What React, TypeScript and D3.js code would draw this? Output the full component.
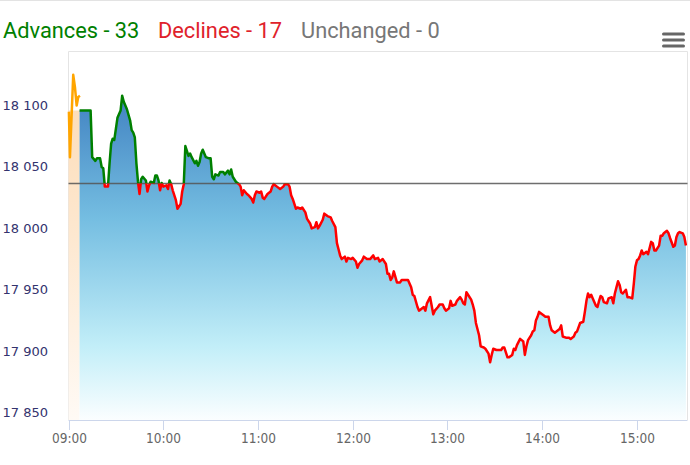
import React from "react";
import * as d3 from "d3";

// ---------- data ----------
const summaryLabels = ["Advances", "Declines", "Unchanged"];
const summaryCounts = [33, 17, 0];

const prevClose = 18036.5;

const preTimes = ["09:00:15", "09:00:55", "09:03:00", "09:04:05", "09:05:10", "09:06:10", "09:07:15"];
const preValues = [18095, 18058, 18125, 18115, 18100, 18107, 18108];

const times = [
  "09:07","09:14","09:15","09:17","09:18","09:20","09:21","09:22","09:23","09:25",
  "09:26","09:27","09:28","09:29","09:30","09:31","09:33","09:34","09:35","09:37",
  "09:39","09:40","09:41","09:42","09:43","09:44","09:45","09:46","09:47","09:49",
  "09:50","09:51","09:52","09:54","09:55","09:56","09:57","09:58","09:59","10:00",
  "10:02","10:03","10:04","10:05","10:06","10:08","10:09","10:11","10:12","10:13",
  "10:14","10:16","10:17","10:18","10:20","10:21","10:22","10:23","10:24","10:25",
  "10:27","10:29","10:30","10:31","10:32","10:33","10:35","10:36","10:38","10:39",
  "10:41","10:42","10:43","10:44","10:46","10:48","10:49","10:50","10:51","10:53",
  "10:54","10:56","10:57","10:58","10:59","11:01","11:02","11:03","11:04","11:06",
  "11:08","11:09","11:10","11:12","11:14","11:16","11:17","11:19","11:20","11:21",
  "11:22","11:24","11:25","11:27","11:28","11:30","11:31","11:33","11:34","11:36",
  "11:37","11:38","11:39","11:41","11:42","11:44","11:46","11:47","11:49","11:50",
  "11:51","11:52","11:53","11:55","11:56","11:57","11:59","12:00","12:02","12:03",
  "12:04","12:06","12:07","12:09","12:11","12:13","12:14","12:16","12:17","12:19",
  "12:21","12:22","12:23","12:24","12:25","12:26","12:28","12:30","12:31","12:32",
  "12:34","12:35","12:37","12:38","12:39","12:41","12:42","12:44","12:45","12:46",
  "12:47","12:49","12:50","12:51","12:52","12:54","12:55","12:57","12:58","12:59",
  "13:01","13:02","13:03","13:05","13:06","13:08","13:09","13:10","13:11","13:12",
  "13:13","13:15","13:16","13:17","13:18","13:20","13:21","13:23","13:24","13:26",
  "13:27","13:28","13:29","13:31","13:32","13:34","13:35","13:36","13:38","13:39",
  "13:41","13:42","13:43","13:44","13:46","13:48","13:49","13:50","13:51","13:53",
  "13:54","13:55","13:56","13:57","13:58","14:01","14:02","14:04","14:05","14:06",
  "14:08","14:10","14:11","14:12","14:13","14:15","14:17","14:18","14:20","14:21",
  "14:22","14:24","14:26","14:27","14:28","14:29","14:30","14:31","14:32","14:34",
  "14:35","14:36","14:37","14:38","14:39","14:41","14:42","14:44","14:45","14:46",
  "14:47","14:48","14:49","14:50","14:51","14:53","14:54","14:55","14:57","14:58",
  "14:59","15:00","15:01","15:02","15:03","15:04","15:06","15:07","15:08","15:09",
  "15:10","15:11","15:12","15:14","15:15","15:16","15:17","15:19","15:20","15:21",
  "15:23","15:24","15:25","15:26","15:27","15:29","15:30","15:31"
];
const values = [
  18096,18096,18058,18055,18057,18057,18050,18049,18034,18034,
  18053,18069,18073,18072,18081,18090,18096,18108,18103,18097,
  18088,18080,18078,18074,18053,18038,18028,18040,18042,18039,
  18030,18035,18038,18037,18043,18043,18039,18031,18037,18034,
  18035,18032,18039,18036,18031,18023,18016,18020,18030,18036,
  18067,18059,18061,18058,18053,18055,18051,18054,18061,18064,
  18058,18057,18057,18042,18040,18044,18043,18046,18046,18044,
  18047,18044,18048,18042,18038,18036,18034,18027,18031,18028,
  18027,18024,18021,18027,18030,18029,18030,18025,18024,18028,
  18030,18034,18036,18034,18032,18034,18036,18036,18034,18027,
  18024,18016,18017,18016,18017,18013,18008,18004,18000,18001,
  18005,18000,18002,18007,18012,18010,18009,18006,18001,17988,
  17983,17978,17975,17977,17973,17976,17975,17976,17973,17968,
  17971,17974,17977,17975,17975,17978,17975,17976,17973,17975,
  17971,17963,17963,17958,17960,17965,17956,17956,17958,17958,
  17958,17958,17952,17946,17945,17936,17933,17935,17936,17933,
  17939,17944,17937,17930,17933,17936,17938,17938,17935,17933,
  17935,17941,17937,17938,17941,17944,17942,17939,17938,17948,
  17946,17942,17938,17933,17923,17913,17904,17903,17902,17898,
  17891,17897,17902,17901,17901,17901,17903,17903,17895,17895,
  17897,17902,17901,17905,17910,17908,17897,17904,17909,17913,
  17916,17917,17925,17928,17932,17929,17928,17928,17921,17917,
  17915,17917,17918,17921,17912,17911,17911,17910,17912,17915,
  17916,17923,17924,17932,17941,17947,17944,17946,17943,17937,
  17936,17941,17945,17944,17940,17939,17943,17944,17939,17947,
  17952,17957,17954,17948,17947,17950,17944,17944,17943,17955,
  17969,17974,17975,17978,17982,17979,17981,17979,17984,17989,
  17988,17982,17982,17986,17994,17994,17996,17998,17996,17992,
  17985,17986,17993,17996,17997,17996,17993,17986
];

const xTickLabels = ["09:00", "10:00", "11:00", "12:00", "13:00", "14:00", "15:00"];
const yTickValues = [17850, 17900, 17950, 18000, 18050, 18100];
const xDomain = ["09:00", "15:32"];
const yDomain = [17844, 18144];

// ---------- helpers ----------
function toDate(t: string): Date {
  const p = t.split(":").map(Number);
  return new Date(2024, 0, 2, p[0], p[1], p[2] || 0);
}
const fmtY = (v: number) => {
  const s = String(Math.round(v));
  return s.slice(0, s.length - 3) + " " + s.slice(s.length - 3);
};

type Pt = { t: Date; v: number };

export default function App() {
  const W = 690, H = 465;
  const left = 68.5, right = 687.5, top = 51.5, bottom = 420;

  const x = d3.scaleTime().domain(xDomain.map(toDate)).range([left, right]);
  const y = d3.scaleLinear().domain(yDomain).range([bottom, top]);

  const main: Pt[] = times.map((t, i) => ({ t: toDate(t), v: values[i] }));
  const pre: Pt[] = preTimes.map((t, i) => ({ t: toDate(t), v: preValues[i] }));

  const line = d3.line<Pt>().x(d => x(d.t)).y(d => y(d.v));
  const area = d3.area<Pt>().x(d => x(d.t)).y0(bottom).y1(d => y(d.v));

  const preBand: Pt[] = [
    { t: toDate(xDomain[0]), v: values[0] },
    { t: toDate(times[0]), v: values[0] },
  ];

  const ty = y(prevClose);

  const titleColors = ["#008000", "#e0222b", "#777777"];
  const titleX = [3, 158, 301];

  return (
    <svg width={W} height={H} style={{ position: "absolute", left: 0, top: 0, background: "#fff" }}>
      <defs>
        <linearGradient id="blueFill" gradientUnits="userSpaceOnUse" x1="0" y1={top} x2="0" y2={bottom}>
          <stop offset="0" stopColor="#2f6db6" />
          <stop offset="0.45" stopColor="#74bde1" />
          <stop offset="0.8" stopColor="#c2eef8" />
          <stop offset="1" stopColor="#fbfeff" />
        </linearGradient>
        <linearGradient id="peachFill" gradientUnits="userSpaceOnUse" x1="0" y1={top} x2="0" y2={bottom}>
          <stop offset="0" stopColor="#fdd9b0" />
          <stop offset="0.5" stopColor="#fde8d0" />
          <stop offset="1" stopColor="#fffaf5" />
        </linearGradient>
        <clipPath id="above">
          <rect x={left} y={top} width={right - left} height={ty - top} />
        </clipPath>
        <clipPath id="below">
          <rect x={left} y={ty} width={right - left} height={bottom - ty} />
        </clipPath>
      </defs>

      <line x1={0} x2={W} y1={0.5} y2={0.5} stroke="#e3e3e3" />

      {summaryLabels.map((l, i) => (
        <text key={l} x={titleX[i]} y={37.5} fontFamily="Roboto" fontSize={21.8} fill={titleColors[i]}>
          {`${l} - ${summaryCounts[i]}`}
        </text>
      ))}

      {/* menu icon */}
      {[0, 1, 2].map(i => (
        <line key={i} x1={663.5} x2={683.5} y1={34 + i * 6} y2={34 + i * 6} stroke="#666" strokeWidth={3} strokeLinecap="round" />
      ))}

      {/* plot border */}
      <path d={`M${left},${bottom} V${top} H${right} V${bottom}`} fill="none" stroke="#e4e4e4" strokeWidth={1} />

      {/* pre-open band */}
      <path d={area(preBand) || ""} fill="url(#peachFill)" />
      {/* main area */}
      <path d={area(main) || ""} fill="url(#blueFill)" />

      {/* previous close line */}
      <line x1={left} x2={right} y1={ty} y2={ty} stroke="#555" strokeOpacity={0.85} strokeWidth={1.5} />

      {/* pre-open line */}
      <path d={line(pre) || ""} fill="none" stroke="#ffa500" strokeWidth={2.5} strokeLinejoin="round" />

      {/* main line split by threshold */}
      <path d={line(main) || ""} fill="none" stroke="#008000" strokeWidth={2.5} strokeLinejoin="round" clipPath="url(#above)" />
      <path d={line(main) || ""} fill="none" stroke="#ff0000" strokeWidth={2.5} strokeLinejoin="round" clipPath="url(#below)" />

      {/* x axis */}
      <line x1={left} x2={right} y1={bottom + 0.5} y2={bottom + 0.5} stroke="#ccd6eb" />
      {xTickLabels.map(t => {
        const xx = Math.round(x(toDate(t))) + 0.5;
        return (
          <g key={t}>
            <line x1={xx} x2={xx} y1={bottom} y2={bottom + 10} stroke="#ccd6eb" />
            <text x={xx} y={443} textAnchor="middle" fontFamily="DejaVu Sans Condensed, DejaVu Sans" fontSize={13.5} fill="#666">
              {t}
            </text>
          </g>
        );
      })}

      {/* y axis labels */}
      {yTickValues.map(v => (
        <text key={v} x={48} y={y(v) + 4.5} textAnchor="end" fontFamily="DejaVu Sans" fontSize={13} fill="#33336e">
          {fmtY(v)}
        </text>
      ))}
    </svg>
  );
}
